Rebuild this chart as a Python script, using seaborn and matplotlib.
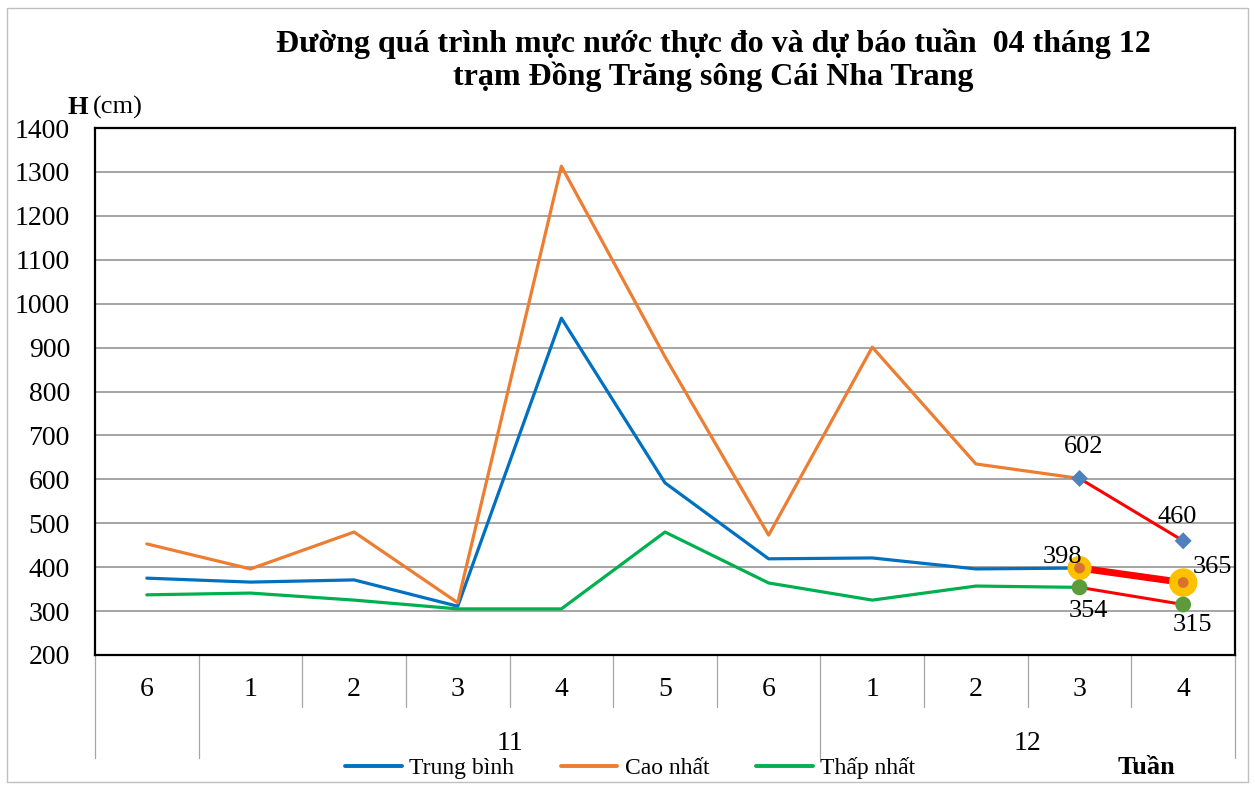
import numpy as np
import pandas as pd
import seaborn as sns
from matplotlib import pyplot as plt
from matplotlib.patches import Rectangle

# so lieu doc tu hinh
weeks = ['6', '1', '2', '3', '4', '5', '6', '1', '2', '3', '4']
months = ['', '11', '11', '11', '11', '11', '11', '12', '12', '12', '12']
trung_binh = [375, 366, 371, 311, 967, 592, 419, 421, 396, 398]
cao_nhat = [453, 396, 480, 319, 1313, 879, 473, 901, 635, 602]
thap_nhat = [337, 341, 325, 305, 305, 480, 364, 325, 357, 354]
# du bao tuan 3 -> tuan 4 thang 12
dubao_tb = [398, 365]
dubao_cao = [602, 460]
dubao_thap = [354, 315]

series = ['Trung bình', 'Cao nhất', 'Thấp nhất']
colors = {'Trung bình': '#0070C0', 'Cao nhất': '#ED7D31', 'Thấp nhất': '#00B050'}

sns.set_theme(style='white', rc={'text.color': 'black', 'xtick.color': 'black',
                                 'ytick.color': 'black'})
plt.rcParams['font.family'] = ['Liberation Serif', 'DejaVu Serif']

n_obs = len(trung_binh)
df = pd.DataFrame({'stt': list(range(n_obs)) * 3,
                   'H': trung_binh + cao_nhat + thap_nhat,
                   'loai': sum([[s] * n_obs for s in series], [])})
idx_db = [n_obs - 1, n_obs]
df_db = pd.DataFrame({'stt': idx_db * 3,
                      'H': dubao_cao + dubao_tb + dubao_thap,
                      'loai': sum([[s] * 2 for s in ['cao', 'tb', 'thap']], [])})

fig = plt.figure(figsize=(12.55, 7.87), dpi=100)
ax = fig.add_axes([95 / 1255, 1 - 655 / 787, 1140 / 1255, 527 / 787])

sns.lineplot(data=df, x='stt', y='H', hue='loai', palette=colors, linewidth=2.3,
             ax=ax, legend=False, zorder=3)

# duong du bao mau do
for k, lw in [('cao', 2.2), ('tb', 5.0), ('thap', 2.2)]:
    d = df_db[df_db['loai'] == k]
    sns.lineplot(data=d, x='stt', y='H', color='red', linewidth=lw, ax=ax, zorder=4)

d = df_db[df_db['loai'] == 'cao']
sns.scatterplot(data=d, x='stt', y='H', marker='D', color='#4F81BD', s=75,
                edgecolor='none', ax=ax, zorder=5)
d = df_db[df_db['loai'] == 'tb']
sns.scatterplot(data=d, x='stt', y='H', marker='o', size='stt', sizes=(300, 420),
                color='#FFC000', edgecolor='none', ax=ax, zorder=5, legend=False)
sns.scatterplot(data=d, x='stt', y='H', marker='o', color='#D5732F', s=60,
                edgecolor='none', ax=ax, zorder=6)
d = df_db[df_db['loai'] == 'thap']
sns.scatterplot(data=d, x='stt', y='H', marker='o', color='#5E9B3C', s=130,
                edgecolor='none', ax=ax, zorder=5)

# nhan so lieu du bao
offsets = {'cao': [(3, 23), (-4, 17)], 'tb': [(-12, 8), (21, 11)], 'thap': [(6, -17), (7, -15)]}
for k, offs in offsets.items():
    d = df_db[df_db['loai'] == k]
    for (x, y), off in zip(zip(d['stt'], d['H']), offs):
        ax.annotate(str(y), (x, y), xytext=off, textcoords='offset points',
                    ha='center', va='center', fontsize=19, color='black', zorder=7)

ax.set_xlim(-0.5, len(weeks) - 0.5)
ax.set_ylim(200, 1400)
ax.set_yticks(np.arange(200, 1401, 100))
ax.yaxis.grid(True, color='#8C8C8C', linewidth=1.1)
ax.xaxis.grid(False)
ax.tick_params(axis='y', length=0, pad=18, labelsize=20, labelcolor='black')
ax.set_xticks(range(len(weeks)))
ax.set_xticklabels(weeks)
ax.tick_params(axis='x', length=0, pad=16, labelsize=20, labelcolor='black')
ax.set_xlabel('')
ax.set_ylabel('')
for sp in ax.spines.values():
    sp.set_color('black')
    sp.set_linewidth(1.6)
    sp.set_visible(True)

# luoi phan cach truc hoanh
trans = ax.get_xaxis_transform()
for i in range(len(weeks) + 1):
    x = i - 0.5
    low = -0.195 if (i == 0 or i == len(weeks) or months[min(i, len(weeks) - 1)] != months[i - 1]) else -0.099
    ax.plot([x, x], [0, low], transform=trans, color='#A6A6A6', linewidth=0.9, clip_on=False)

for m in sorted(set(months) - {''}):
    pos = [i for i, v in enumerate(months) if v == m]
    ax.text(np.mean(pos), -0.168, m, transform=trans, ha='center', va='center', fontsize=20)

# tieu de va nhan truc
fig.text(713 / 1255, 1 - 60 / 787,
         'Đường quá trình mực nước thực đo và dự báo tuần  04 tháng 12\ntrạm Đồng Trăng sông Cái Nha Trang',
         ha='center', va='center', fontsize=23, fontweight='bold', linespacing=1.1)
fig.text(67 / 1255, 1 - 107 / 787, 'H', ha='left', va='center', fontsize=19, fontweight='bold')
fig.text(93 / 1255, 1 - 107 / 787, '(cm)', ha='left', va='center', fontsize=19)
fig.text(1118 / 1255, 1 - 767 / 787, 'Tuần', ha='left', va='center', fontsize=19, fontweight='bold')

handles = [plt.Line2D([], [], color=colors[s], linewidth=2.8) for s in series]
fig.legend(handles, series, loc='center', bbox_to_anchor=(630 / 1255, 1 - 768 / 787),
           ncol=3, frameon=False, fontsize=17, handlelength=2.4, handletextpad=0.3,
           columnspacing=2.0)

fig.patches.append(Rectangle((7 / 1255, 5 / 787), 1241 / 1255, 774 / 787, transform=fig.transFigure,
                             fill=False, edgecolor='#BFBFBF', linewidth=1.0))

fig.savefig('out.png', dpi=100)
